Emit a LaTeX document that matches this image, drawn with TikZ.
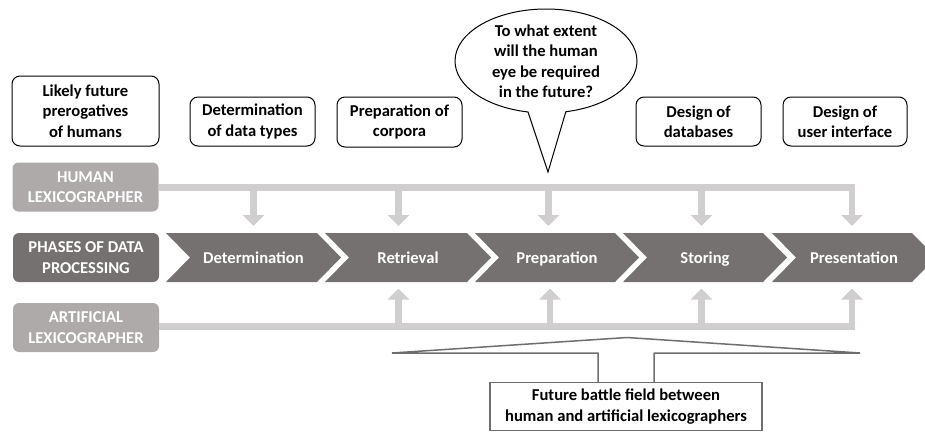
\documentclass[tikz,border=0pt]{standalone}
\usepackage{fontspec}
\setmainfont{Carlito}
\usetikzlibrary{arrows.meta,shapes.geometric,shapes.callouts}
\definecolor{bargray}{HTML}{D0CECE}
\definecolor{midgray}{HTML}{AEAAAA}
\definecolor{darkgray}{HTML}{767171}
\definecolor{lineg}{HTML}{6E6E6E}
\tikzset{
  txt/.style={font=\bfseries\fontsize{16.6}{20.5}\selectfont, align=center},
  topbox/.style={txt, draw=black, line width=1pt, rounded corners=8pt, fill=white, inner sep=0pt},
  sidebox/.style={txt, rounded corners=6pt, text=white, inner sep=0pt, minimum width=146pt, minimum height=49pt},
  chev/.style={fill=darkgray},
  chevtxt/.style={txt, text=white, anchor=base},
  bar/.style={draw=bargray, line width=6.5pt, -{Triangle[width=21pt,length=11pt]}},
  calloutline/.style={draw=lineg, line width=1.5pt, line join=bevel}
}
\begin{document}
\begin{tikzpicture}[x=1pt,y=-1pt]
\useasboundingbox (0,0) rectangle (925,432);

% top boxes
\node[topbox, minimum width=147pt, minimum height=70pt] (prerog) at (85.5,111) {Likely future\\prerogatives\\of humans};
\node[topbox, minimum width=125pt, minimum height=49pt] (dtypes) at (252.5,121.5) {Determination\\of data types};
\node[topbox, minimum width=125pt, minimum height=50pt] (corp) at (399.5,122) {Preparation of\\corpora};
\node[topbox, minimum width=125pt, minimum height=49pt] (dbs) at (698.5,121.5) {Design of\\databases};
\node[topbox, minimum width=124pt, minimum height=49pt] (ui) at (845,121.5) {Design of\\user interface};

% speech bubble
\node[ellipse callout, draw=black, line width=1pt, fill=white, txt,
      minimum width=182pt, minimum height=104pt, inner sep=0pt,
      callout absolute pointer={(548,172)}, callout pointer arc=24] (bubble) at (546,61)
      {To what extent\\will the human\\eye be required\\in the future?};

% side labels
\node[sidebox, fill=midgray] (human) at (85.5,187) {HUMAN\\LEXICOGRAPHER};
\node[sidebox, fill=darkgray] (phases) at (86,257.5) {PHASES OF DATA\\PROCESSING};
\node[sidebox, fill=midgray] (artif) at (86,327.5) {ARTIFICIAL\\LEXICOGRAPHER};

% chevrons
\foreach \L/\R/\n/\t in {166/317/c1/Determination, 325/467/c2/Retrieval, 475/615/c3/Preparation, 623/763/c4/Storing, 772/912/c5/Presentation}{
  \fill[chev] (\L,233) -- (\R,233) -- (\R+24,257.5) -- (\R,282) -- (\L,282) -- (\L+24,257.5) -- cycle;
  \node[chevtxt] (\n) at ({(\L+\R)/2+12},263.5) {\t};
}

% human bar and arrows
\coordinate (hb1) at (253.5,187.5);
\coordinate (hb2) at (398.5,187.5);
\coordinate (hb3) at (548.5,187.5);
\coordinate (hb4) at (701.5,187.5);
\coordinate (hb5) at (852,187.5);
\draw[bar] (human.east |- hb1) -- (hb5) -- (852,226);
\foreach \i/\x in {1/253.5,2/398.5,3/548.5,4/701.5}{
  \draw[bar] (hb\i) -- (\x,226);
}

% artificial bar and arrows
\coordinate (ab2) at (398.5,326.5);
\coordinate (ab3) at (550,326.5);
\coordinate (ab4) at (701.5,326.5);
\coordinate (ab5) at (852,326.5);
\draw[bar] (artif.east |- ab2) -- (ab5) -- (852,288.5);
\foreach \i/\x in {2/398.5,3/550,4/701.5}{
  \draw[bar] (ab\i) -- (\x,288.5);
}

% bottom callout
\node[txt, draw=lineg, line width=1.5pt, minimum width=272pt, minimum height=48pt, inner sep=0pt] (fb) at (626,406.5)
  {Future battle field between\\human and artificial lexicographers};
\coordinate (lend) at (392,353);
\coordinate (apex) at (627,337.5);
\coordinate (rend) at (860,353);
\draw[calloutline] (598,382) -- (598,353) -- (lend) -- (apex) -- (rend) -- (654,353) -- (654,382);
\end{tikzpicture}
\end{document}
